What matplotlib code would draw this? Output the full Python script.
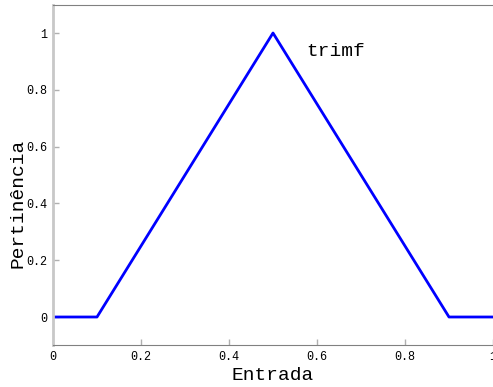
import numpy as np
import matplotlib.pyplot as plt

# trimf with params [a, b, c]
a, b, c = 0.1, 0.5, 0.9
x = [0.0, a, b, c, 1.0]
y = [0.0, 0.0, 1.0, 0.0, 0.0]
xticks = [0, 0.2, 0.4, 0.6, 0.8, 1]
yticks = [0, 0.2, 0.4, 0.6, 0.8, 1]
ticklabels = ['0', '0.2', '0.4', '0.6', '0.8', '1']

plt.rcParams['font.family'] = ['Liberation Mono', 'DejaVu Sans Mono']

fig = plt.figure(figsize=(4.93, 3.87), dpi=100)
ax = fig.add_axes([53 / 493, 41.6 / 387, 440 / 493, 340.8 / 387])

ax.plot(x, y, color='#0000ff', linewidth=2)
ax.set_xlim(0, 1)
ax.set_ylim(-0.1, 1.1)
ax.set_xticks(xticks)
ax.set_xticklabels(ticklabels)
ax.set_yticks(yticks)
ax.set_yticklabels(ticklabels)
ax.tick_params(direction='in', length=4, width=1, color='#b0b0b0', labelsize=8.5, pad=4)

ax.spines['right'].set_visible(False)
ax.spines['top'].set_color('#808080')
ax.spines['bottom'].set_color('#808080')
ax.spines['left'].set_color('#c8c8c8')
ax.spines['left'].set_linewidth(2)

ax.text(0.575, 0.935, 'trimf', fontsize=14, va='center', ha='left')
ax.set_xlabel('Entrada', fontsize=14)
ax.set_ylabel('Pertinência', fontsize=14, va='center')
ax.xaxis.set_label_coords(0.5, -0.087, transform=ax.transAxes)
ax.xaxis.label.set_va('center')
ax.yaxis.set_label_coords(-0.08, 0.418, transform=ax.transAxes)

fig.savefig('out.png', dpi=100)
